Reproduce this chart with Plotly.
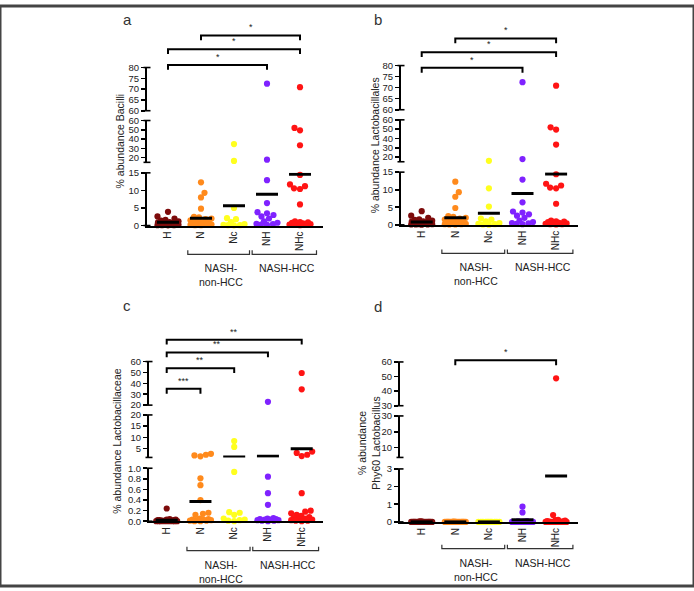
import plotly.graph_objects as go

W, H = 694, 591
categories = ["H", "N", "Nc", "NH", "NHc"]
colors = ["#7d0b0b", "#ff8a1c", "#ffff1e", "#7f22ff", "#ff1414"]

# ---------------- data ----------------
# a: % abundance Bacilli
a_H = [3.9, 2.6, 2.0, 1.6, 1.4, 1.2, 1.0, 0.9, 0.8, 0.6, 0.5, 0.4, 0.3, 0.3, 0.2, 0.2, 0.1, 0.1, 0.1, 0.05]
a_N = [12.3, 9.3, 8.0, 4.8, 2.5, 2.3, 2.0, 1.8, 1.5, 1.2, 1.0, 0.8, 0.6, 0.5, 0.4, 0.3, 0.2, 0.2, 0.1, 0.1]
a_Nc = [34.7, 16.5, 5.0, 2.1, 1.8, 1.0, 0.4, 0.2, 0.1, 0.1, 0.05]
a_NH = [72.5, 17.9, 12.9, 6.4, 3.8, 3.5, 3.0, 2.6, 2.0, 1.2, 0.8, 0.5, 0.4, 0.3, 0.2]
a_NHc = [70.9, 52.0, 49.5, 33.4, 14.4, 11.7, 11.2, 10.6, 10.4, 6.0, 1.2, 1.0, 0.9, 0.8, 0.6, 0.5, 0.4, 0.3, 0.2, 0.2, 0.1]
a_means = [0.95, 2.1, 5.6, 8.9, 14.6]

# b: % abundance Lactobacillales
b_H = [3.9, 2.6, 2.0, 1.6, 1.4, 1.2, 1.0, 0.9, 0.8, 0.6, 0.5, 0.4, 0.3, 0.3, 0.2, 0.2, 0.1, 0.1, 0.1, 0.05]
b_N = [12.3, 9.3, 8.0, 4.8, 2.5, 2.3, 2.0, 1.8, 1.5, 1.2, 1.0, 0.8, 0.6, 0.5, 0.4, 0.3, 0.2, 0.2, 0.1, 0.1]
b_Nc = [16.0, 10.4, 5.2, 1.8, 1.5, 1.0, 0.5, 0.3, 0.2, 0.1, 0.05]
b_NH = [72.5, 17.9, 12.9, 6.4, 3.8, 3.5, 3.0, 2.6, 2.0, 1.2, 0.8, 0.5, 0.4, 0.3, 0.2]
b_NHc = [70.9, 52.0, 49.5, 33.4, 14.4, 11.7, 11.2, 10.6, 10.4, 6.0, 1.2, 1.0, 0.9, 0.8, 0.6, 0.5, 0.4, 0.3, 0.2, 0.2, 0.1]
b_means = [0.8, 2.0, 3.3, 8.9, 14.5]

# c: % abundance Lactobacillaceae
c_H = [0.24, 0.04, 0.03, 0.03, 0.02, 0.02, 0.02, 0.01, 0.01, 0.01, 0.01, 0.0, 0.0, 0.0, 0.0, 0.0, 0.0, 0.0, 0.0, 0.0]
c_N = [2.6, 2.2, 1.9, 1.5, 0.81, 0.68, 0.40, 0.16, 0.14, 0.12, 0.05, 0.04, 0.03, 0.03, 0.02, 0.02, 0.01, 0.01, 0.0, 0.0]
c_Nc = [8.3, 5.7, 0.93, 0.17, 0.16, 0.12, 0.05, 0.03, 0.02, 0.01, 0.0]
c_NH = [23.0, 0.84, 0.53, 0.31, 0.06, 0.05, 0.04, 0.04, 0.03, 0.03, 0.02, 0.02, 0.01, 0.01, 0.0]
c_NHc = [49.5, 34.5, 3.6, 3.0, 2.2, 1.6, 0.53, 0.2, 0.18, 0.15, 0.12, 0.1, 0.08, 0.06, 0.05, 0.04, 0.03, 0.02, 0.01, 0.01, 0.0]
c_means = [0.02, 0.37, 1.2, 1.5, 4.9]

# d: % abundance Phy60 Lactobacillus
d_H = [0.03, 0.02, 0.02, 0.01, 0.01, 0.01, 0.0, 0.0, 0.0, 0.0, 0.0, 0.0, 0.0, 0.0, 0.0, 0.0, 0.0, 0.0, 0.0, 0.0]
d_N = [0.02, 0.01, 0.01, 0.0, 0.0, 0.0, 0.0, 0.0, 0.0, 0.0, 0.0, 0.0, 0.0, 0.0, 0.0, 0.0, 0.0, 0.0, 0.0, 0.0]
d_Nc = [0.01, 0.0, 0.0, 0.0, 0.0, 0.0, 0.0, 0.0, 0.0, 0.0, 0.0]
d_NH = [0.86, 0.54, 0.05, 0.03, 0.02, 0.01, 0.0, 0.0, 0.0, 0.0, 0.0, 0.0, 0.0, 0.0, 0.0]
d_NHc = [48.8, 0.39, 0.12, 0.1, 0.08, 0.05, 0.03, 0.02, 0.01, 0.0, 0.0, 0.0, 0.0, 0.0, 0.0, 0.0, 0.0, 0.0, 0.0, 0.0, 0.0]
d_means = [0.0, 0.0, 0.0, 0.12, 2.6]

# significance comparisons (group index pairs) and labels
a_sig = [(1, 4, "*"), (0, 4, "*"), (0, 3, "*")]
b_sig = [(1, 4, "*"), (0, 4, "*"), (0, 3, "*")]
c_sig = [(0, 4, "**"), (0, 3, "**"), (0, 2, "**"), (0, 1, "***")]
d_sig = [(1, 4, "*")]

# ---------------- layout geometry (pixels) ----------------
FONT = "Arial, Liberation Sans, sans-serif"
panels = [
    dict(letter="a", title="% abundance Bacilli", groups=[a_H, a_N, a_Nc, a_NH, a_NHc], means=a_means,
         sig=a_sig, sig_y=[30, 44, 60],
         spine=147, right=323, cat0=168, step=33, letter_xy=(127, 14), title_xy=(120, 138),
         segs=[(0, 15, 223.7, 170, [0, 5, 10, 15], None),
               (15, 60, 159.3, 116.7, [20, 30, 40, 50, 60], None),
               (60, 80, 106.7, 62.7, [60, 65, 70, 75, 80], None)],
         grp_y=253),
    dict(letter="b", title="% abundance Lactobacillales", groups=[b_H, b_N, b_Nc, b_NH, b_NHc], means=b_means,
         sig=b_sig, sig_y=[33, 47, 63],
         spine=401, right=578, cat0=421.7, step=33.6, letter_xy=(378, 14), title_xy=(375, 142),
         segs=[(0, 15, 223, 169.3, [0, 5, 10, 15], None),
               (15, 60, 158.7, 116, [20, 30, 40, 50, 60], None),
               (60, 80, 105.7, 60.7, [60, 65, 70, 75, 80], None)],
         grp_y=252),
    dict(letter="c", title="% abundance Lactobacillaceae", groups=[c_H, c_N, c_Nc, c_NH, c_NHc], means=c_means,
         sig=c_sig, sig_y=[340, 353, 369, 390],
         spine=149, right=323, cat0=166.7, step=33.75, letter_xy=(127, 305), title_xy=(117, 443),
         segs=[(0, 1, 525, 471, [0, 0.2, 0.4, 0.6, 0.8, 1.0], ["0.0", "0.2", "0.4", "0.6", "0.8", "1.0"]),
               (1, 20, 460, 416.7, [5, 10, 15, 20], None),
               (20, 60, 406.7, 362.3, [20, 30, 40, 50, 60], None)],
         grp_y=555),
    dict(letter="d", title="% abundance<br>Phy60 Lactobacillus", groups=[d_H, d_N, d_Nc, d_NH, d_NHc], means=d_means,
         sig=d_sig, sig_y=[361],
         spine=400, right=578, cat0=421.7, step=33.6, letter_xy=(378, 306), title_xy=(369, 446),
         segs=[(0, 3, 525.7, 471.7, [0, 1, 2, 3], None),
               (3.75, 30, 460, 417.7, [10, 20, 30], None),
               (30, 60, 407.3, 362.7, [30, 40, 50, 60], None)],
         grp_y=553),
]

MS = 6.2       # marker size px
DMIN = 5.6     # min centre distance for swarm
HALFW = 10.5   # max swarm half width px
MEAN_HALF = 11 # mean bar half width px


def px_of(v, seg):
    lo, hi, pl, ph = seg[0], seg[1], seg[2], seg[3]
    return pl + (v - lo) / (hi - lo) * (ph - pl)


def seg_index(v, segs):
    for k, s in enumerate(segs):
        if s[0] <= v <= s[1]:
            return k
    return min(range(len(segs)), key=lambda k: min(abs(v - segs[k][0]), abs(v - segs[k][1])))


def swarm(ys):
    placed = []
    offs = [0.0] * len(ys)
    order = sorted(range(len(ys)), key=lambda i: -ys[i])
    steps = [k * 0.5 for k in range(0, int(HALFW * 2) + 1)]
    toggle = 1
    for i in order:
        y = ys[i]
        best, bestd, found = 0.0, -1.0, False
        for s in steps:
            for c in ([0.0] if s == 0 else [toggle * s, -toggle * s]):
                md = min([((c - px) ** 2 + (y - py) ** 2) ** 0.5 for px, py in placed], default=1e9)
                if md >= DMIN:
                    best, found = c, True
                    break
                if md > bestd:
                    bestd, best = md, c
            if found:
                break
        toggle = -toggle
        placed.append((best, y))
        offs[i] = best
    return offs


fig = go.Figure()
layout = dict(width=W, height=H, margin=dict(l=0, r=0, t=0, b=0), paper_bgcolor="white",
              plot_bgcolor="rgba(0,0,0,0)", showlegend=False, font=dict(family=FONT, color="#222"))
shapes, annotations = [], []

def yp(py):
    return 1 - py / H

def ax_names(nid):
    return ("x" if nid == 1 else f"x{nid}"), ("y" if nid == 1 else f"y{nid}")

n = 0
for p in panels:
    xr = [(p["spine"] - p["cat0"]) / p["step"], (p["right"] - p["cat0"]) / p["step"]]
    xdom = [p["spine"] / W, p["right"] / W]
    ids = []
    for k, seg in enumerate(p["segs"]):
        n += 1
        ids.append(n)
        xk = "xaxis" if n == 1 else f"xaxis{n}"
        yk = "yaxis" if n == 1 else f"yaxis{n}"
        xn, yn = ax_names(n)
        layout[xk] = dict(domain=xdom, range=xr, anchor=yn, showgrid=False, zeroline=False,
                          fixedrange=True)
        if k == 0:
            layout[xk].update(showline=True, linecolor="black", linewidth=2, ticks="",
                              tickmode="array", tickvals=list(range(5)), ticktext=categories,
                              tickangle=-90, tickfont=dict(size=10, family=FONT, color="#222"))
        else:
            layout[xk].update(visible=False)
        lo, hi, pl, ph, tv, tt = seg
        layout[yk] = dict(domain=[yp(pl), yp(ph)], range=[lo, hi], anchor=xn, showgrid=False,
                          zeroline=False, showline=True, linecolor="black", linewidth=2,
                          ticks="outside", ticklen=4, tickwidth=1.6, tickcolor="black",
                          tickmode="array", tickvals=tv, ticktext=tt if tt else [str(t) for t in tv],
                          tickfont=dict(size=9.5, family=FONT, color="#222"), fixedrange=True)
        # empty trace so that every segment is drawn
        fig.add_trace(go.Scatter(x=[None], y=[None], xaxis=xn, yaxis=yn, mode="markers",
                                 hoverinfo="skip"))
        # caps at segment ends (broken axis marks)
        for pyv in (pl, ph):
            shapes.append(dict(type="line", xref="paper", yref="paper",
                               x0=(p["spine"] - 3.5) / W, x1=(p["spine"] + 3.5) / W,
                               y0=yp(pyv), y1=yp(pyv), line=dict(color="black", width=1.6)))
    # points
    for g, vals in enumerate(p["groups"]):
        segi = [seg_index(v, p["segs"]) for v in vals]
        ys = [px_of(v, p["segs"][s]) for v, s in zip(vals, segi)]
        offs = swarm(ys)
        for k in range(3):
            xs = [g + o / p["step"] for o, s in zip(offs, segi) if s == k]
            yv = [v for v, s in zip(vals, segi) if s == k]
            if not xs:
                continue
            xn, yn = ax_names(ids[k])
            fig.add_trace(go.Scatter(x=xs, y=yv, mode="markers", cliponaxis=False,
                                     xaxis=xn, yaxis=yn,
                                     marker=dict(size=MS, color=colors[g], line=dict(width=0)),
                                     hoverinfo="skip"))
    # mean bars
    for k in range(3):
        mx, my = [], []
        for g, m in enumerate(p["means"]):
            if seg_index(m, p["segs"]) == k:
                hw = MEAN_HALF / p["step"]
                mx += [g - hw, g + hw, None]
                my += [m, m, None]
        if mx:
            xn, yn = ax_names(ids[k])
            fig.add_trace(go.Scatter(x=mx, y=my, mode="lines", cliponaxis=False,
                                     xaxis=xn, yaxis=yn,
                                     line=dict(color="black", width=3), hoverinfo="skip"))
    xref = ax_names(ids[0])[0]
    # significance brackets
    for (g1, g2, lab), ly in zip(p["sig"], p["sig_y"]):
        shapes.append(dict(type="path", xref=xref, yref="paper",
                           path=f"M {g1},{yp(ly + 5)} L {g1},{yp(ly)} L {g2},{yp(ly)} L {g2},{yp(ly + 5)}",
                           line=dict(color="black", width=2)))
        annotations.append(dict(x=(g1 + g2) / 2, y=yp(ly - 1), xref=xref, yref="paper", text=lab,
                                showarrow=False, yanchor="bottom", xanchor="center",
                                font=dict(size=9, family=FONT, color="#222")))
    # group brackets under the x axis
    gy = p["grp_y"]
    for (g1, g2) in [(0.6, 2.47), (2.55, 4.5)]:
        shapes.append(dict(type="path", xref=xref, yref="paper",
                           path=f"M {g1},{yp(gy - 4)} L {g1},{yp(gy)} L {g2},{yp(gy)} L {g2},{yp(gy - 4)}",
                           line=dict(color="#333", width=1.2)))
    annotations.append(dict(x=1.62, y=yp(gy + 6), xref=xref, yref="paper", text="NASH-<br>non-HCC",
                            showarrow=False, yanchor="top", xanchor="center",
                            font=dict(size=10.5, family=FONT, color="#222")))
    annotations.append(dict(x=3.6, y=yp(gy + 6), xref=xref, yref="paper", text="NASH-HCC",
                            showarrow=False, yanchor="top", xanchor="center",
                            font=dict(size=10.5, family=FONT, color="#222")))
    # panel letter and y title
    lx, ly = p["letter_xy"]
    annotations.append(dict(x=lx / W, y=yp(ly), xref="paper", yref="paper", text=p["letter"],
                            showarrow=False, xanchor="center", yanchor="middle",
                            font=dict(size=15, family=FONT, color="#333")))
    tx, ty = p["title_xy"]
    annotations.append(dict(x=tx / W, y=yp(ty), xref="paper", yref="paper", text=p["title"],
                            showarrow=False, xanchor="center", yanchor="middle", textangle=-90,
                            font=dict(size=10.5, family=FONT, color="#222")))

# outer frame
shapes.append(dict(type="rect", xref="paper", yref="paper", x0=0, y0=0, x1=1, y1=1,
                   line=dict(color="#444", width=3)))
layout["shapes"] = shapes
layout["annotations"] = annotations
fig.update_layout(**layout)
fig.write_html("out.html", config={"displayModeBar": False, "staticPlot": True})

# remove the default page margin so the figure fills the window exactly
with open("out.html", encoding="utf-8") as f:
    html = f.read()
html = html.replace("<head>", "<head><style>html,body{margin:0;padding:0;overflow:hidden;}</style>", 1)
with open("out.html", "w", encoding="utf-8") as f:
    f.write(html)
